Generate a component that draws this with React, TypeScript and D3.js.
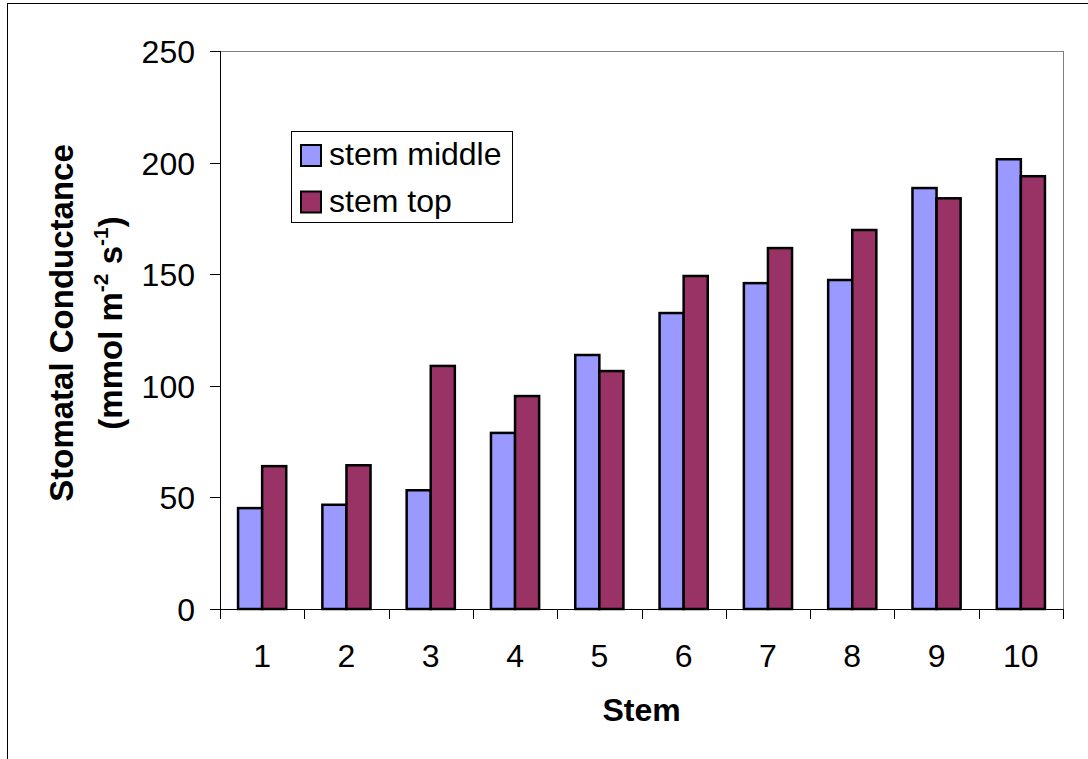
import React from "react";
import * as d3 from "d3";

const categories = ["1", "2", "3", "4", "5", "6", "7", "8", "9", "10"];
const seriesNames = ["stem middle", "stem top"];
const stemMiddle = [45.2, 46.7, 53.2, 78.9, 113.8, 132.6, 146, 147.4, 188.6, 201.5];
const stemTop = [64, 64.4, 108.9, 95.4, 106.6, 149.2, 161.7, 169.8, 184, 193.9];
const yTicks = [0, 50, 100, 150, 200, 250];
const colors = ["#9999FF", "#993366"];

const W = 1088;
const H = 759;
const plot = { left: 220, right: 1063, top: 51, bottom: 609 };
const FONT = "Liberation Sans, Arial, Helvetica, sans-serif";
const FS = 32;

export default function App() {
  const x = d3.scaleBand<string>().domain(categories).range([plot.left, plot.right]).paddingInner(0).paddingOuter(0);
  const xs = d3.scaleBand<string>().domain(seriesNames).range([0, x.bandwidth()]).paddingInner(0).paddingOuter(0.75);
  const y = d3.scaleLinear().domain([0, 250]).range([plot.bottom, plot.top]);
  const values = [stemMiddle, stemTop];
  const boundaries = categories.map((c) => x(c)!).concat([plot.right]);

  return (
    <svg width={W} height={H} style={{ position: "absolute", left: 0, top: 0, background: "#fff" }} fontFamily={FONT}>
      <rect x={0} y={0} width={W} height={H} fill="#fff" />
      {/* chart frame */}
      <rect x={7.5} y={3.5} width={1200} height={900} fill="none" stroke="#000" strokeWidth={1} />

      {/* plot area border */}
      <rect x={plot.left + 0.5} y={plot.top + 0.5} width={plot.right - plot.left} height={plot.bottom - plot.top} fill="none" stroke="#808080" strokeWidth={1} />

      {/* bars */}
      {values.map((vals, si) =>
        vals.map((v, i) => (
          <rect
            key={`${si}-${i}`}
            x={x(categories[i])! + xs(seriesNames[si])!}
            y={y(v)}
            width={xs.bandwidth()}
            height={y(0) - y(v)}
            fill={colors[si]}
            stroke="#000"
            strokeWidth={2.5}
          />
        ))
      )}

      {/* axes */}
      <line x1={plot.left + 0.5} x2={plot.left + 0.5} y1={plot.top} y2={plot.bottom} stroke="#000" />
      <line x1={plot.left} x2={plot.right} y1={plot.bottom + 0.5} y2={plot.bottom + 0.5} stroke="#000" />
      {yTicks.map((t) => (
        <g key={t}>
          <line x1={plot.left - 10} x2={plot.left} y1={Math.round(y(t)) + 0.5} y2={Math.round(y(t)) + 0.5} stroke="#000" />
          <text x={plot.left - 25} y={y(t) + 12} textAnchor="end" fontSize={FS} fill="#000">
            {t}
          </text>
        </g>
      ))}
      {boundaries.map((b, i) => (
        <line key={i} x1={Math.round(b) + 0.5} x2={Math.round(b) + 0.5} y1={plot.bottom} y2={plot.bottom + 10} stroke="#000" />
      ))}
      {categories.map((c) => (
        <text key={c} x={x(c)! + x.bandwidth() / 2} y={667} textAnchor="middle" fontSize={FS} fill="#000">
          {c}
        </text>
      ))}

      {/* axis titles */}
      <text x={(plot.left + plot.right) / 2} y={721} textAnchor="middle" fontSize={FS} fontWeight="bold" fill="#000">
        Stem
      </text>
      <g transform="translate(73, 323) rotate(-90)">
        <text x={0} y={0} textAnchor="middle" fontSize={33} fontWeight="bold" fill="#000">
          Stomatal Conductance
        </text>
        <text x={0} y={49} textAnchor="middle" fontSize={33} fontWeight="bold" fill="#000">
          (mmol m<tspan fontSize={21} dy={-14}>-2</tspan>
          <tspan dy={14}> s</tspan>
          <tspan fontSize={21} dy={-14}>-1</tspan>
          <tspan dy={14}>)</tspan>
        </text>
      </g>

      {/* legend */}
      <rect x={291.5} y={131.5} width={221} height={91} fill="#fff" stroke="#000" strokeWidth={1} />
      {seriesNames.map((s, i) => (
        <g key={s} transform={`translate(301, ${145 + i * 46.5})`}>
          <rect x={0} y={0} width={20} height={21} fill={colors[i]} stroke="#000" strokeWidth={2} />
          <text x={28} y={20} fontSize={FS} fill="#000">
            {s}
          </text>
        </g>
      ))}
    </svg>
  );
}
